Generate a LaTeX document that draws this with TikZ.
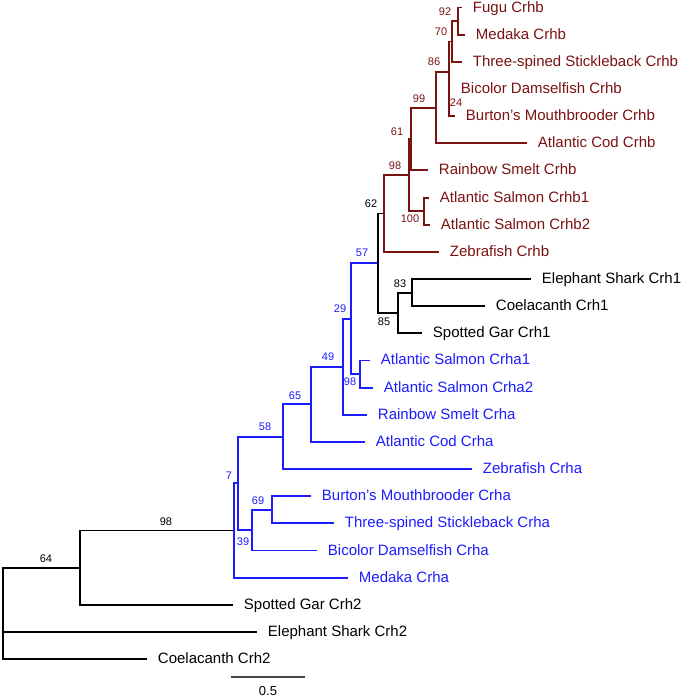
\documentclass[tikz,border=0pt]{standalone}
\usepackage{fontspec}
\setmainfont{Liberation Sans}
\usetikzlibrary{graphs}
\definecolor{crhbred}{RGB}{122,18,18}
\definecolor{crhablue}{RGB}{28,28,255}
\definecolor{bargray}{RGB}{70,70,70}
\tikzset{
  leaf/.style= {anchor=base west, inner sep=0, xshift=10pt, yshift=-4.5pt, font=\fontsize{15}{18}\selectfont},
  boot/.style= {inner sep=0, font=\fontsize{11}{13}\selectfont},
  elbow/.style= {to path={|- (\tikztotarget)}},
  redclade/.style= {color=crhbred},
  blueclade/.style= {color=crhablue},
  scalebar/.style= {draw=bargray},
}

\begin{document}
\begin{tikzpicture}[x=1pt, y=-1pt, line width=1.9pt]
  \useasboundingbox (0,0) rectangle (684,699);

  \coordinate (root) at (3,631.95) ;
  \coordinate (n64) at (80,567.65) ;
  \coordinate (n98a) at (234,530.5) ;
  \coordinate (n7) at (238,483.4) ;
  \coordinate (n39) at (252,530.15) ;
  \coordinate (n69) at (272,509.8) ;
  \coordinate (n58) at (283,436.7) ;
  \coordinate (n65) at (311,404.3) ;
  \coordinate (n49) at (343,366.7) ;
  \coordinate (n29) at (351,318.6) ;
  \coordinate (n98c) at (360,374.0) ;
  \coordinate (n57) at (378,263.2) ;
  \coordinate (n85) at (398,312.95) ;
  \coordinate (n83) at (412,292.6) ;
  \coordinate (n62) at (384,213.45) ;
  \coordinate (n98r) at (409,175.05) ;
  \coordinate (n100) at (424,211.1) ;
  \coordinate (n61) at (411,139.0) ;
  \coordinate (n99) at (436,107.6) ;
  \coordinate (n86) at (449,72.0) ;
  \coordinate (n24) at (449,102.5) ;
  \coordinate (n70) at (452,41.45) ;
  \coordinate (n92) at (458,21.1) ;

  \coordinate (fugub) at (462,7.5) ;
  \coordinate (medakab) at (465,34.65) ;
  \coordinate (sticklebackb) at (462,61.8) ;
  \coordinate (damselb) at (450,88.95) ;
  \coordinate (mouthb) at (455,116.1) ;
  \coordinate (codb) at (527,143.25) ;
  \coordinate (smeltb) at (428,170.4) ;
  \coordinate (salmonb1) at (429,197.55) ;
  \coordinate (salmonb2) at (430,224.7) ;
  \coordinate (zebrab) at (439,251.85) ;
  \coordinate (sharkone) at (531,279.0) ;
  \coordinate (coelaone) at (485,306.15) ;
  \coordinate (garone) at (422,333.3) ;
  \coordinate (salmona1) at (370,360.45) ;
  \coordinate (salmona2) at (373,387.6) ;
  \coordinate (smelta) at (367,414.75) ;
  \coordinate (coda) at (365,441.9) ;
  \coordinate (zebraa) at (472,469.05) ;
  \coordinate (moutha) at (311,496.2) ;
  \coordinate (sticklebacka) at (334,523.35) ;
  \coordinate (damsela) at (317,550.5) ;
  \coordinate (medakaa) at (348,577.65) ;
  \coordinate (gartwo) at (233,604.8) ;
  \coordinate (sharktwo) at (257,631.95) ;
  \coordinate (coelatwo) at (147,659.1) ;

  \node [leaf, crhbred] (fugubl) at (fugub) {Fugu Crhb} ;
  \node [leaf, crhbred] (medakabl) at (medakab) {Medaka Crhb} ;
  \node [leaf, crhbred] (sticklebackbl) at (sticklebackb) {Three-spined Stickleback Crhb} ;
  \node [leaf, crhbred] (damselbl) at (damselb) {Bicolor Damselfish Crhb} ;
  \node [leaf, crhbred] (mouthbl) at (mouthb) {Burton's Mouthbrooder Crhb} ;
  \node [leaf, crhbred] (codbl) at (codb) {Atlantic Cod Crhb} ;
  \node [leaf, crhbred] (smeltbl) at (smeltb) {Rainbow Smelt Crhb} ;
  \node [leaf, crhbred] (salmonb1l) at (salmonb1) {Atlantic Salmon Crhb1} ;
  \node [leaf, crhbred] (salmonb2l) at (salmonb2) {Atlantic Salmon Crhb2} ;
  \node [leaf, crhbred] (zebrabl) at (zebrab) {Zebrafish Crhb} ;
  \node [leaf] (sharkonel) at (sharkone) {Elephant Shark Crh1} ;
  \node [leaf] (coelaonel) at (coelaone) {Coelacanth Crh1} ;
  \node [leaf] (garonel) at (garone) {Spotted Gar Crh1} ;
  \node [leaf, crhablue] (salmona1l) at (salmona1) {Atlantic Salmon Crha1} ;
  \node [leaf, crhablue] (salmona2l) at (salmona2) {Atlantic Salmon Crha2} ;
  \node [leaf, crhablue] (smeltal) at (smelta) {Rainbow Smelt Crha} ;
  \node [leaf, crhablue] (codal) at (coda) {Atlantic Cod Crha} ;
  \node [leaf, crhablue] (zebraal) at (zebraa) {Zebrafish Crha} ;
  \node [leaf, crhablue] (mouthal) at (moutha) {Burton's Mouthbrooder Crha} ;
  \node [leaf, crhablue] (sticklebackal) at (sticklebacka) {Three-spined Stickleback Crha} ;
  \node [leaf, crhablue] (damselal) at (damsela) {Bicolor Damselfish Crha} ;
  \node [leaf, crhablue] (medakaal) at (medakaa) {Medaka Crha} ;
  \node [leaf] (gartwol) at (gartwo) {Spotted Gar Crh2} ;
  \node [leaf] (sharktwol) at (sharktwo) {Elephant Shark Crh2} ;
  \node [leaf] (coelatwol) at (coelatwo) {Coelacanth Crh2} ;

  \node [boot] (b64) at (46,559) {64} ;
  \node [boot] (b98a) at (166,522) {98} ;
  \node [boot, crhablue] (b7) at (229,476) {7} ;
  \node [boot, crhablue] (b39) at (243,542) {39} ;
  \node [boot, crhablue] (b69) at (258,501) {69} ;
  \node [boot, crhablue] (b58) at (265,427) {58} ;
  \node [boot, crhablue] (b65) at (295,396) {65} ;
  \node [boot, crhablue] (b49) at (328,357) {49} ;
  \node [boot, crhablue] (b29) at (340,309) {29} ;
  \node [boot, crhablue] (b98c) at (350,382) {98} ;
  \node [boot, crhablue] (b57) at (362,253) {57} ;
  \node [boot] (b85) at (384,322) {85} ;
  \node [boot] (b83) at (400,284) {83} ;
  \node [boot] (b62) at (371,204) {62} ;
  \node [boot, crhbred] (b98r) at (395,166) {98} ;
  \node [boot, crhbred] (b100) at (410,219) {100} ;
  \node [boot, crhbred] (b61) at (397,132) {61} ;
  \node [boot, crhbred] (b99) at (419,99) {99} ;
  \node [boot, crhbred] (b86) at (434,62) {86} ;
  \node [boot, crhbred] (b24) at (456,103) {24} ;
  \node [boot, crhbred] (b70) at (441,32) {70} ;
  \node [boot, crhbred] (b92) at (445,12) {92} ;

  \graph [edges={elbow}] {
    (root) -- {(n64), (sharktwo), (coelatwo)} ;
    (n64) -- {(n98a), (gartwo)} ;
    (n98a) --[blueclade] {(n7), (medakaa)} ;
    (n7) --[blueclade] {(n58), (n39)} ;
    (n39) --[blueclade] {(n69), (damsela)} ;
    (n69) --[blueclade] {(moutha), (sticklebacka)} ;
    (n58) --[blueclade] {(n65), (zebraa)} ;
    (n65) --[blueclade] {(n49), (coda)} ;
    (n49) --[blueclade] {(n29), (smelta)} ;
    (n29) --[blueclade] {(n57), (n98c)} ;
    (n98c) --[blueclade] {(salmona1), (salmona2)} ;
    (n57) -- {(n62), (n85)} ;
    (n85) -- {(n83), (garone)} ;
    (n83) -- {(sharkone), (coelaone)} ;
    (n62) --[redclade] {(n98r), (zebrab)} ;
    (n98r) --[redclade] {(n61), (n100)} ;
    (n100) --[redclade] {(salmonb1), (salmonb2)} ;
    (n61) --[redclade] {(n99), (smeltb)} ;
    (n99) --[redclade] {(n86), (codb)} ;
    (n86) --[redclade] {(n70), (n24)} ;
    (n24) --[redclade] {(damselb), (mouthb)} ;
    (n70) --[redclade] {(n92), (sticklebackb)} ;
    (n92) --[redclade] {(fugub), (medakab)} ;
  } ;

  \coordinate (bar1) at (231,677) ;
  \coordinate (bar2) at (305,677) ;
  \draw [scalebar] (bar1) -- (bar2) ;
  \node [boot, font=\fontsize{13}{16}\selectfont] (barl) at (268,691) {0.5} ;
\end{tikzpicture}
\end{document}
